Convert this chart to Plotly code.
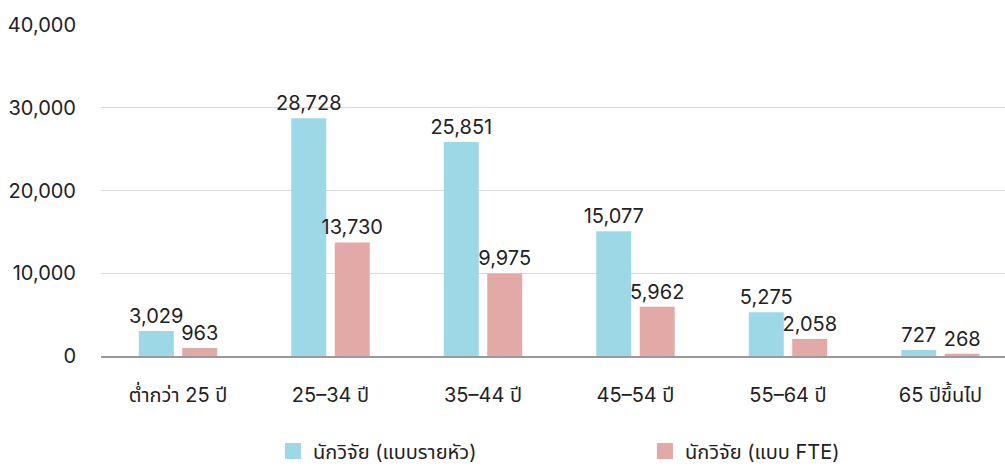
import plotly.graph_objects as go

categories = ["ต่ำกว่า 25 ปี", "25–34 ปี", "35–44 ปี", "45–54 ปี", "55–64 ปี", "65 ปีขึ้นไป"]
headcount = [3029, 28728, 25851, 15077, 5275, 727]
fte = [963, 13730, 9975, 5962, 2058, 268]
series_names = ["นักวิจัย (แบบรายหัว)", "นักวิจัย (แบบ FTE)"]
y_ticks = [0, 10000, 20000, 30000, 40000]

FONT = "Inter, 'Noto Sans Thai', 'Noto Sans', sans-serif"
colors = ["#9dd8e6", "#e3a9a6"]

fig = go.Figure()
for name, vals, col in zip(series_names, [headcount, fte], colors):
    fig.add_trace(go.Bar(
        x=categories, y=vals, name=name, showlegend=False,
        marker=dict(color=col, line=dict(width=0)),
        text=[f"{v:,}" for v in vals], textposition="outside",
        constraintext="none",
        textfont=dict(size=20, color="#222222", family=FONT),
        cliponaxis=False,
    ))
    # legend swatch drawn as a square marker
    fig.add_trace(go.Scatter(
        x=[None], y=[None], mode="markers", name=name,
        marker=dict(symbol="square", size=16, color=col),
    ))

fig.update_layout(
    width=1005, height=466,
    margin=dict(l=101, r=0, t=25, b=110),
    paper_bgcolor="white", plot_bgcolor="white",
    barmode="group", bargap=0.43, bargroupgap=0.195,
    font=dict(family=FONT, size=20, color="#222222"),
    showlegend=True,
    legend=dict(orientation="h", xref="container", x=0.2716, xanchor="left",
                yref="container", y=0.032, yanchor="middle",
                font=dict(size=20, color="#222222", family=FONT),
                entrywidth=327, itemwidth=30),
    yaxis=dict(range=[0, 40000], tickvals=y_ticks, tickformat=",",
               gridcolor="#d9d9d9", gridwidth=1, zeroline=False,
               showline=False, ticks="", ticklabelstandoff=24,
               tickfont=dict(size=20, family=FONT)),
    xaxis=dict(range=[-0.505, 5.423], showline=True, linecolor="#999999",
               linewidth=2, ticks="",
               tickfont=dict(size=20, family=FONT), ticklabelstandoff=20),
)

fig.write_html("out.html")
